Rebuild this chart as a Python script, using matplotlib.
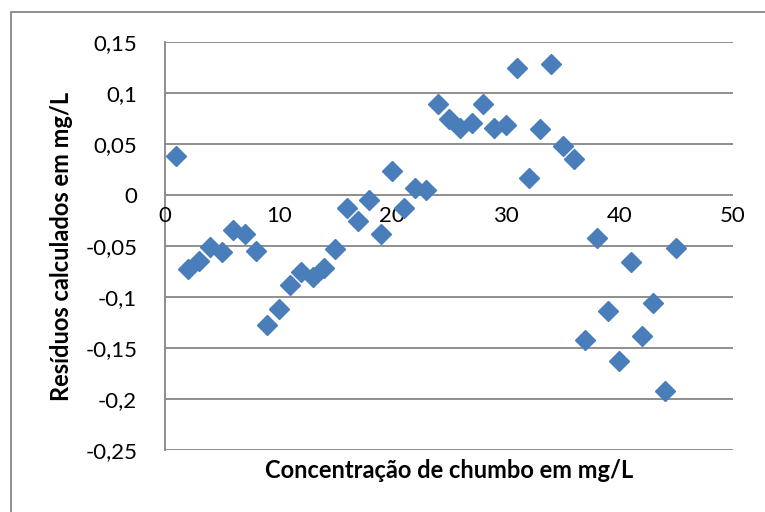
import matplotlib
matplotlib.use("Agg")
import matplotlib.pyplot as plt
from matplotlib.patches import Rectangle

plt.rcParams['font.family'] = ['Lato', 'DejaVu Sans']

concentracao = list(range(1, 46))
residuos = [0.038, -0.073, -0.065, -0.051, -0.056, -0.034, -0.038, -0.055, -0.128, -0.112,
            -0.088, -0.076, -0.081, -0.072, -0.053, -0.013, -0.026, -0.005, -0.038, 0.023,
            -0.013, 0.007, 0.005, 0.089, 0.074, 0.065, 0.070, 0.089, 0.065, 0.068,
            0.124, 0.016, 0.064, 0.128, 0.048, 0.035, -0.142, -0.042, -0.114, -0.163,
            -0.066, -0.138, -0.106, -0.192, -0.052]
y_ticks = [0.15, 0.1, 0.05, 0, -0.05, -0.1, -0.15, -0.2, -0.25]
y_labels = ['0,15', '0,1', '0,05', '0', '-0,05', '-0,1', '-0,15', '-0,2', '-0,25']
x_ticks = [0, 10, 20, 30, 40, 50]
x_label = 'Concentração de chumbo em mg/L'
y_label = 'Resíduos calculados em mg/L'

W, H = 765, 512
fig = plt.figure(figsize=(W/100, H/100), dpi=100)
ax = fig.add_axes([165/W, 1-450/H, (733-165)/W, (450-41.7)/H])

grid_c = '#868686'
ax.set_xlim(0, 50)
ax.set_ylim(-0.25, 0.15)
ax.set_yticks(y_ticks)
ax.set_yticklabels(y_labels)
for y in y_ticks:
    ax.axhline(y, color=grid_c, lw=1.3, zorder=1)
for s in ['top', 'right', 'bottom']:
    ax.spines[s].set_visible(False)
ax.spines['left'].set_color(grid_c)
ax.spines['left'].set_linewidth(1.3)
ax.tick_params(axis='y', length=0, pad=20, labelsize=16)
ax.set_xticks([])
for xt in x_ticks:
    ax.text(xt, -0.011, str(xt), ha='center', va='top', fontsize=16)

ax.plot(concentracao, residuos, linestyle='none', marker='D', markersize=10.5,
        color='#4A7EBB', zorder=3, clip_on=False)

fig.text(62/W, 1-246/H, y_label, rotation=90, ha='center', va='center',
         fontsize=17, fontweight='bold')
fig.text(449/W, 1-470/H, x_label, ha='center', va='center', fontsize=17, fontweight='bold')

fig.patches.append(Rectangle((11/W, -0.1), (800-11)/W, 1.1 - 12/H,
                             transform=fig.transFigure, fill=False,
                             edgecolor=grid_c, lw=1.3))

fig.savefig('out.png', dpi=100)
